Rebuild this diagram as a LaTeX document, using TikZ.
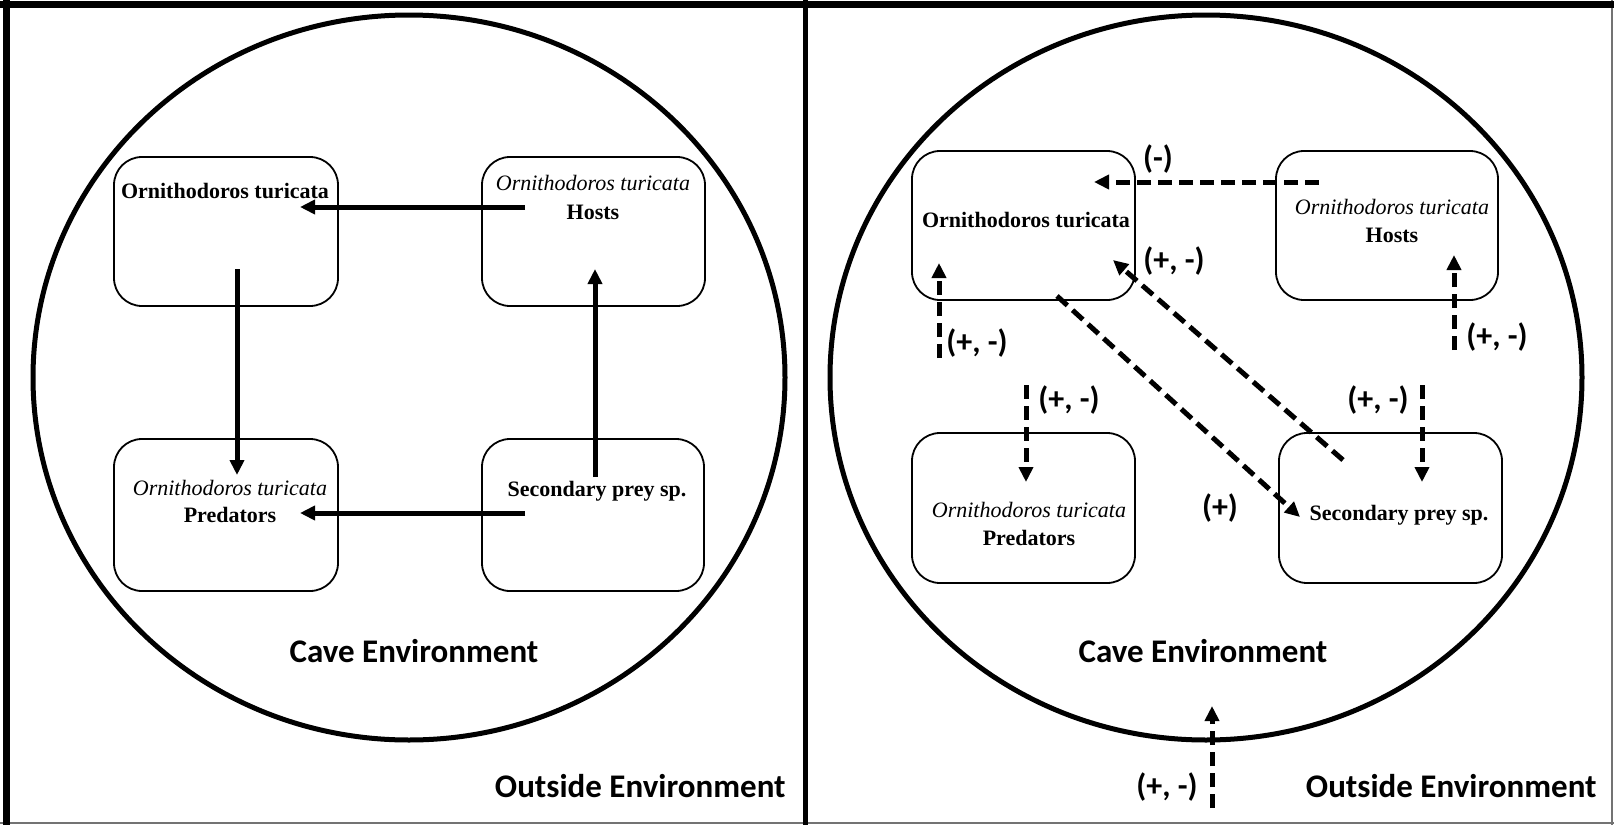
\documentclass[tikz,border=0pt]{standalone}
\usepackage{fontspec}
\setmainfont{Liberation Serif}
\newfontfamily\calibri{Carlito}
\usetikzlibrary{arrows.meta}
\begin{document}
\begin{tikzpicture}[x=0.5pt,y=-0.5pt,
  box/.style={draw, line width=0.9pt, rounded corners=14pt, minimum width=111.5pt, inner sep=0pt},
  sp/.style={font=\fontsize{11pt}{13pt}\selectfont\bfseries, inner sep=0pt, anchor=base},
  spi/.style={font=\fontsize{11pt}{13pt}\selectfont\itshape, inner sep=0pt, anchor=base},
  env/.style={font=\calibri\bfseries\fontsize{16.5pt}{19pt}\selectfont, inner sep=0pt, anchor=base},
  sign/.style={font=\calibri\bfseries\fontsize{16pt}{19pt}\selectfont, inner sep=0pt, anchor=base},
  solidarrow/.style={line width=2.5pt, -{Triangle[length=7.5pt,width=7pt]}},
  dasharrow/.style={solidarrow, dash pattern=on 7pt off 3.5pt},
  framethick/.style={line width=3.5pt},
  framethin/.style={line width=1pt, draw=black!55},
  cave/.style={line width=2.5pt}
]
\useasboundingbox (0,0) rectangle (1614,825);
% frame
\draw[framethin] (1612,0) -- (1612,825);
\draw[framethin] (0,823) -- (1614,823);
\draw[framethick] (0,4.5) -- (1614,4.5);
\draw[framethick] (6,0) -- (6,825);
\draw[line width=2.75pt] (805.5,0) -- (805.5,825);

% ===== left panel =====
\draw[cave] (409,377.5) ellipse [x radius=376, y radius=362.5];
\node[box, minimum width=112pt, minimum height=74.5pt] (lA) at (226,231.5) {};
\node[box, minimum height=74.5pt] (lB) at (593.5,231.5) {};
\node[box, minimum width=112pt, minimum height=76pt] (lC) at (226,515) {};
\node[box, minimum width=111pt, minimum height=76pt] (lD) at (593,515) {};

\node[sp] (lAt) at (225,198) {Ornithodoros turicata};
\node[spi] (lBt1) at (593,190) {Ornithodoros turicata};
\node[sp] (lBt2) at (593,219) {Hosts};
\node[spi] (lCt1) at (230,495) {Ornithodoros turicata};
\node[sp] (lCt2) at (230,522) {Predators};
\node[sp] (lDt) at (597,496) {Secondary prey sp.};

\coordinate (l1s) at (525,207); \coordinate (l1e) at (300,207);
\coordinate (l2s) at (237,269); \coordinate (l2e) at (237,475);
\coordinate (l3s) at (595,477); \coordinate (l3e) at (595,269);
\coordinate (l4s) at (525,513); \coordinate (l4e) at (300,513);
\draw[solidarrow] (l1s) -- (l1e);
\draw[solidarrow] (l2s) -- (l2e);
\draw[solidarrow] (l3s) -- (l3e);
\draw[solidarrow] (l4s) -- (l4e);

\node[env] (lcave) at (414,662) {Cave Environment};
\node[env, anchor=base east] (lout) at (786,797) {Outside Environment};

% ===== right panel =====
\draw[cave] (1206,377.5) ellipse [x radius=376, y radius=362.5];
\node[box, minimum height=74.5pt] (rA) at (1023.5,225.5) {};
\node[box, minimum width=111pt, minimum height=74.5pt] (rB) at (1387,225.5) {};
\node[box, minimum height=75pt] (rC) at (1023.5,508) {};
\node[box, minimum height=75pt] (rD) at (1390.5,508) {};

\node[sp] (rAt) at (1026,227) {Ornithodoros turicata};
\node[spi] (rBt1) at (1392,214) {Ornithodoros turicata};
\node[sp] (rBt2) at (1392,242) {Hosts};
\node[spi] (rCt1) at (1029,517) {Ornithodoros turicata};
\node[sp] (rCt2) at (1029,545) {Predators};
\node[sp] (rDt) at (1399,520) {Secondary prey sp.};

\coordinate (r1s) at (1319,182); \coordinate (r1e) at (1094,182);
\coordinate (r2s) at (1343,460); \coordinate (r2e) at (1113,260);
\coordinate (r3s) at (1057,296); \coordinate (r3e) at (1300,517);
\coordinate (r4s) at (939,358);  \coordinate (r4e) at (939,263);
\coordinate (r5s) at (1454,350); \coordinate (r5e) at (1454,255);
\coordinate (r6s) at (1026,385); \coordinate (r6e) at (1026,482);
\coordinate (r7s) at (1422,385); \coordinate (r7e) at (1422,482);
\coordinate (r8s) at (1212,808); \coordinate (r8e) at (1212,706);
\draw[dasharrow] (r1s) -- (r1e);
\draw[dasharrow] (r2s) -- (r2e);
\draw[dasharrow] (r3s) -- (r3e);
\draw[dasharrow] (r4s) -- (r4e);
\draw[dasharrow] (r5s) -- (r5e);
\draw[dasharrow] (r6s) -- (r6e);
\draw[dasharrow] (r7s) -- (r7e);
\draw[dasharrow] (r8s) -- (r8e);

\node[sign] (s1) at (1158,168) {(-)};
\node[sign] (s2) at (1174,270) {(+, -)};
\node[sign] (s3) at (1220,517) {(+)};
\node[sign] (s4) at (977,352) {(+, -)};
\node[sign] (s5) at (1497,346) {(+, -)};
\node[sign] (s6) at (1069,409) {(+, -)};
\node[sign] (s7) at (1378,409) {(+, -)};
\node[sign] (s8) at (1167,796) {(+, -)};

\node[env] (rcave) at (1203,662) {Cave Environment};
\node[env, anchor=base east] (rout) at (1597,797) {Outside Environment};
\end{tikzpicture}
\end{document}
